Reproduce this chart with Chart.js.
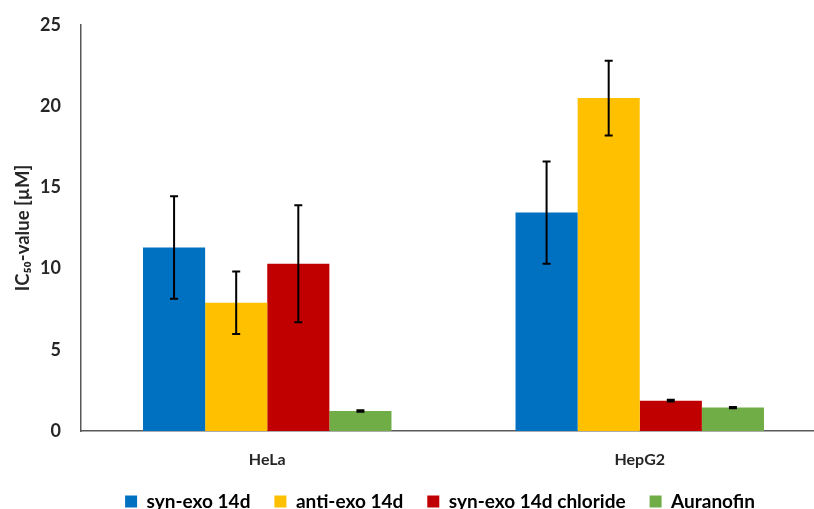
<!DOCTYPE html>
<html>
<head>
<meta charset="utf-8">
<script src="https://cdn.jsdelivr.net/npm/chart.js@4/dist/chart.umd.min.js"></script>
<style>
  html, body { margin: 0; padding: 0; overflow: hidden; background: #fff; }
  #wrap { width: 826px; height: 509px; }
</style>
</head>
<body>
<div id="wrap"><canvas id="chart" width="826" height="509"></canvas></div>
<script>
// Data
const categories = ["HeLa", "HepG2"];
const seriesNames = ["syn-exo 14d", "anti-exo 14d", "syn-exo 14d chloride", "Auranofin"];
const synExo = [11.3, 13.45];
const antiExo = [7.9, 20.5];
const synExoCl = [10.3, 1.87];
const auranofin = [1.23, 1.44];
const synExoErr = [3.15, 3.15];
const antiExoErr = [1.92, 2.3];
const synExoClErr = [3.6, 0.06];
const auranofinErr = [0.05, 0.04];
const yTicks = [0, 5, 10, 15, 20, 25];

const colors = ["#0070C0", "#FFC000", "#C00000", "#70AD47"];
const values = [synExo, antiExo, synExoCl, auranofin];
const errors = [synExoErr, antiExoErr, synExoClErr, auranofinErr];

const fontFamily = "Lato, 'Open Sans', sans-serif";

// Error bars drawn through the y scale
const errorBars = {
  id: "errorBars",
  afterDatasetsDraw(chart) {
    const { ctx, scales: { y } } = chart;
    ctx.save();
    ctx.strokeStyle = "#000";
    ctx.lineWidth = 2;
    chart.data.datasets.forEach((ds, i) => {
      const meta = chart.getDatasetMeta(i);
      meta.data.forEach((bar, j) => {
        const v = ds.data[j], e = ds.errors[j];
        const top = y.getPixelForValue(v + e);
        const bot = y.getPixelForValue(v - e);
        const x = bar.x;
        ctx.beginPath();
        ctx.moveTo(x, top); ctx.lineTo(x, bot);
        ctx.moveTo(x - 4, top); ctx.lineTo(x + 4, top);
        ctx.moveTo(x - 4, bot); ctx.lineTo(x + 4, bot);
        ctx.stroke();
      });
    });
    ctx.restore();
  }
};

// keep the legend strip short in the layout, then nudge it into place
const legendHeight = {
  id: "legendHeight",
  beforeLayout(chart) {
    const lg = chart.legend;
    if (lg && !lg._short) {
      const fit = lg.fit;
      lg.fit = function () { fit.call(this); this.height = 38; };
      lg._short = true;
    }
  },
  afterLayout(chart) {
    const lg = chart.legend;
    if (lg) {
      lg.top -= 3;
      lg.height = 60;
      lg.bottom = lg.top + 60;
      lg.left += 21; lg.right += 21;
    }
  }
};

new Chart(document.getElementById("chart").getContext("2d"), {
  type: "bar",
  data: {
    labels: categories,
    datasets: seriesNames.map((name, i) => ({
      label: name,
      data: values[i],
      errors: errors[i],
      backgroundColor: colors[i],
      borderWidth: 0,
      categoryPercentage: 0.667,
      barPercentage: 1
    }))
  },
  options: {
    responsive: false,
    animation: false,
    layout: { padding: { top: 25, left: 12, right: 0, bottom: 0 } },
    plugins: {
      tooltip: { enabled: false },
      legend: {
        position: "bottom",
        labels: {
          boxWidth: 12,
          boxHeight: 12,
          padding: 24,
          color: "#000",
          font: { family: fontFamily, size: 19, weight: "bold" }
        }
      }
    },
    scales: {
      x: {
        afterFit: axis => { axis.height = 40; },
        grid: { display: false, drawTicks: false },
        border: { display: true, color: "#595959", width: 1.5 },
        ticks: {
          padding: 19,
          color: "#262626",
          font: { family: fontFamily, size: 16, weight: "bold" }
        }
      },
      y: {
        min: 0,
        max: 25,
        afterBuildTicks: axis => { axis.ticks = yTicks.map(v => ({ value: v })); },
        afterFit: axis => {
          axis.width = 69;
          axis.paddingTop = 0;
          axis.paddingBottom = 0;
        },
        grid: { display: false, drawTicks: false },
        border: { display: true, color: "#595959", width: 1.5 },
        ticks: {
          padding: 20,
          color: "#262626",
          font: { family: fontFamily, size: 18, weight: "bold" }
        },
        title: {
          display: true,
          text: "IC\u2085\u2080-value [\u00B5M]",
          color: "#262626",
          padding: { top: 0, bottom: 0 },
          font: { family: fontFamily, size: 18.5, weight: "bold" }
        }
      }
    }
  },
  plugins: [errorBars, legendHeight]
});
</script>
</body>
</html>
